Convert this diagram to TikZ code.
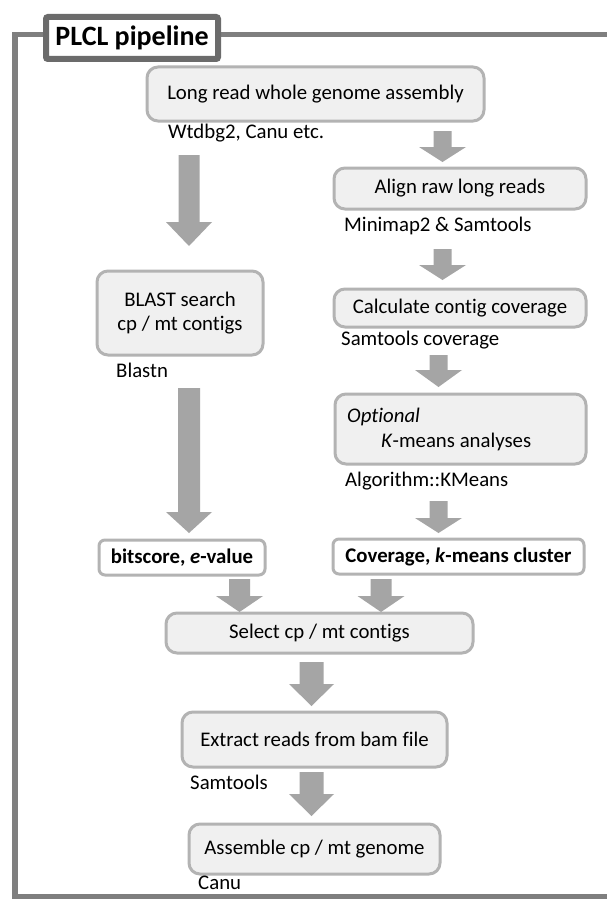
\documentclass[tikz,border=0pt]{standalone}
\usepackage{fontspec}
\setmainfont{Carlito}[Ligatures=NoCommon]
\definecolor{boxfill}{HTML}{F0F0F0}
\definecolor{boxline}{HTML}{B3B3B3}
\definecolor{arrfill}{HTML}{A5A5A5}
\definecolor{frameline}{HTML}{7F7F7F}
\definecolor{titleline}{HTML}{6B6B6B}
\newcommand{\blockarr}[6]{% x, ytop, yhead, ytip, shafthalf, headhalf
  \fill[arrfill] (#1-#5,#2) -- (#1+#5,#2) -- (#1+#5,#3) -- (#1+#6,#3) -- (#1,#4) -- (#1-#6,#3) -- (#1-#5,#3) -- cycle;}
\begin{document}
\begin{tikzpicture}[x=1pt,y=-1pt,
  every node/.style={font=\fontsize{20.8}{24}\selectfont, inner sep=0pt},
  stepbox/.style={draw=boxline, fill=boxfill, line width=3pt, rounded corners=11pt},
  resbox/.style={draw=boxline, fill=white, line width=3pt, rounded corners=6pt, font=\fontsize{20.8}{24}\selectfont\bfseries},
  tool/.style={anchor=west}]
\useasboundingbox (0,0) rectangle (606,899);
\fill[white] (0,0) rectangle (606,899);
% outer frame
\draw[frameline, line width=5.5pt] (620,34.5) -- (15,34.5) -- (15,896.5) -- (620,896.5);
% title
\node[draw=titleline, fill=white, line width=6pt, rounded corners=2pt, minimum width=172pt, minimum height=42pt, font=\fontsize{28}{32}\selectfont\bfseries] (title) at (132,38) {PLCL pipeline};
% boxes
\node[stepbox, minimum width=337pt, minimum height=54pt] (asm) at (315.5,94) {Long read whole genome assembly};
\node[stepbox, minimum width=252pt, minimum height=41pt] (align) at (460,188.5) {Align raw long reads};
\node[stepbox, minimum width=252pt, minimum height=38pt] (cov) at (460,308) {Calculate contig coverage};
\node[stepbox, minimum width=251pt, minimum height=70pt] (km) at (460.5,429) {};
\node[tool] (kmopt) at (347,417) {\itshape Optional};
\node[tool] (kmtxt) at (381,442) {\textit{K}-means analyses};
\node[resbox, minimum width=251pt, minimum height=35pt] (covres) at (458.5,556.5) {Coverage, \textit{k}-means cluster};
\node[stepbox, minimum width=166pt, minimum height=84pt, align=center, font=\fontsize{20.8}{24}\selectfont] (blast) at (180,313) {BLAST search\\cp / mt contigs};
\node[resbox, minimum width=166pt, minimum height=35pt] (bitres) at (182,557.5) {bitscore, \textit{e}-value};
\node[stepbox, minimum width=307pt, minimum height=40pt] (sel) at (319.5,633) {Select cp / mt contigs};
\node[stepbox, minimum width=265pt, minimum height=55pt] (ext) at (314.5,739.5) {Extract reads from bam file};
\node[stepbox, minimum width=251pt, minimum height=50pt] (asmcp) at (314.5,849) {Assemble cp / mt genome};
% tool labels
\node[tool] (t1) at (168,133) {Wtdbg2, Canu etc.};
\node[tool] (t2) at (344,226) {Minimap2 \& Samtools};
\node[tool] (t3) at (341,340) {Samtools coverage};
\node[tool] (t4) at (116,370) {Blastn};
\node[tool] (t5) at (345,481) {Algorithm::KMeans};
\node[tool] (t6) at (190,782) {Samtools};
\node[tool] (t7) at (198,883) {Canu};
% block arrows
\blockarr{189}{155}{222}{246}{10.5}{23}
\blockarr{189}{388}{512}{533}{11}{23}
\blockarr{442.5}{131}{147}{162}{9}{23.5}
\blockarr{442.5}{249}{265}{280}{9}{23.5}
\blockarr{438.5}{355}{370}{387}{9}{23.5}
\blockarr{438.5}{501}{518}{533}{9}{23.5}
\blockarr{239.5}{579}{596}{612}{10.5}{23.5}
\blockarr{381}{579}{596}{612}{10.5}{23.5}
\blockarr{311.5}{662}{684}{706}{12}{22.5}
\blockarr{311.5}{772}{794}{816}{12}{22.5}
\end{tikzpicture}
\end{document}
